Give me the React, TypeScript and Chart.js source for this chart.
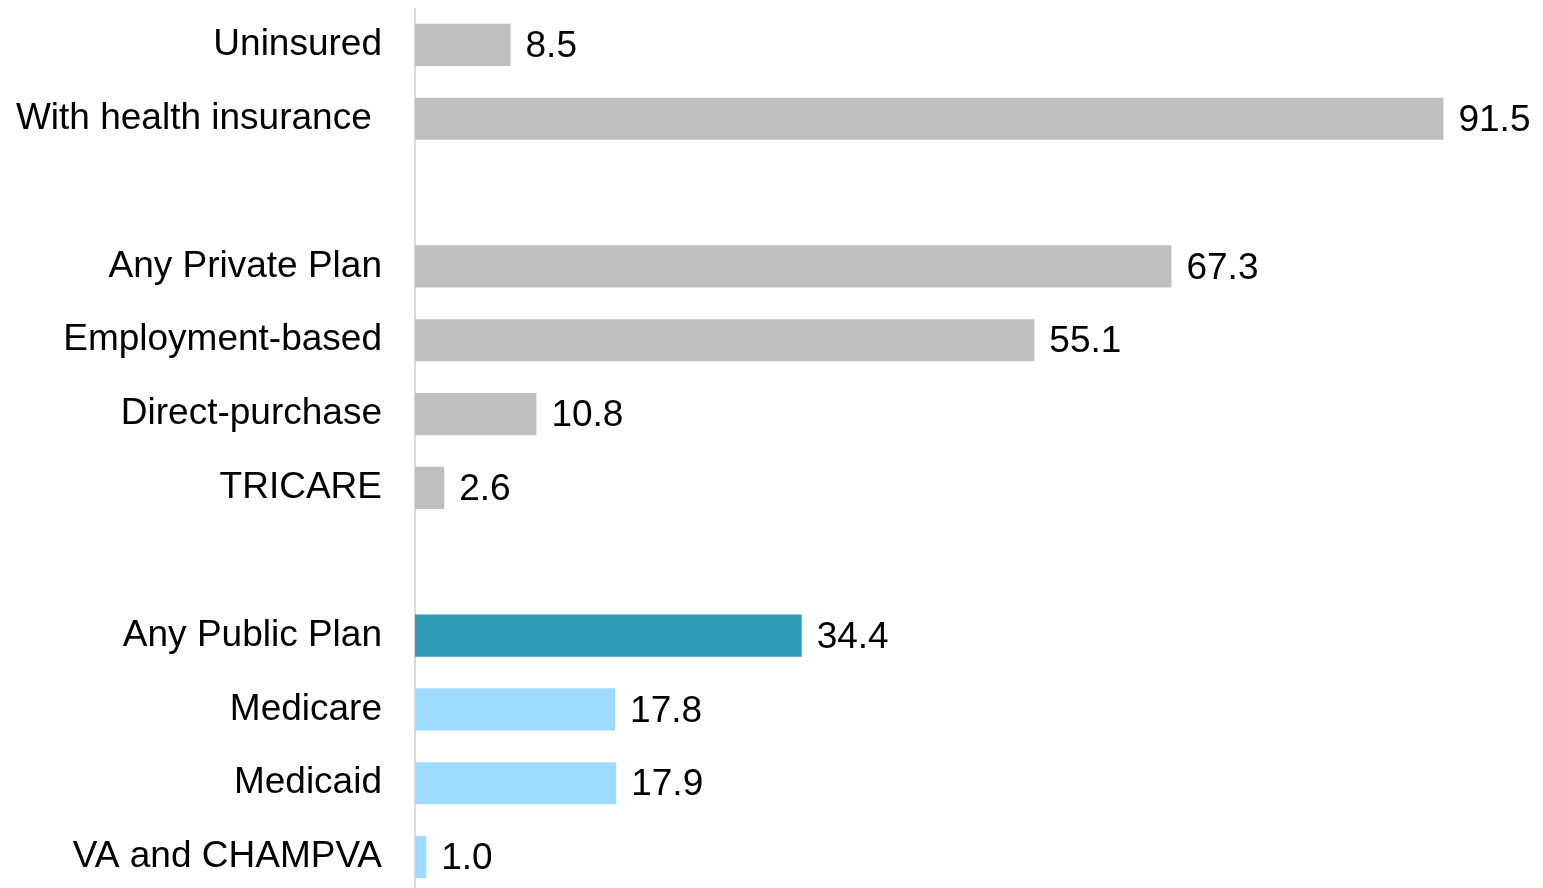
import React, { useEffect, useRef } from "react";
import { Chart, registerables } from "chart.js";

Chart.register(...registerables);

const categories: string[] = [
  "Uninsured",
  "With health insurance ",
  "",
  "Any Private Plan",
  "Employment-based",
  "Direct-purchase",
  "TRICARE",
  "",
  "Any Public Plan",
  "Medicare",
  "Medicaid",
  "VA and CHAMPVA",
];

const values: (number | null)[] = [8.5, 91.5, null, 67.3, 55.1, 10.8, 2.6, null, 34.4, 17.8, 17.9, 1.0];

const barColors: string[] = [
  "#BFBFBF",
  "#BFBFBF",
  "#BFBFBF",
  "#BFBFBF",
  "#BFBFBF",
  "#BFBFBF",
  "#BFBFBF",
  "#BFBFBF",
  "#2E9DB8",
  "#9FDBFE",
  "#9FDBFE",
  "#9FDBFE",
];

const FONT_FAMILY = "'Liberation Sans', Arial, sans-serif";

const valueLabelPlugin = {
  id: "valueLabels",
  afterDatasetsDraw(chart: any) {
    const ctx = chart.ctx;
    const meta = chart.getDatasetMeta(0);
    ctx.save();
    ctx.font = `37px ${FONT_FAMILY}`;
    ctx.fillStyle = "#000000";
    ctx.textAlign = "left";
    ctx.textBaseline = "middle";
    meta.data.forEach((bar: any, i: number) => {
      const v = values[i];
      if (v === null || v === undefined) return;
      ctx.fillText(v.toFixed(1), bar.x + 15, bar.y + 2);
    });
    ctx.restore();
  },
};

export default function App() {
  const canvasRef = useRef<HTMLCanvasElement | null>(null);

  useEffect(() => {
    document.body.style.overflow = "hidden";
    const canvas = canvasRef.current;
    if (!canvas) return;
    const chart = new Chart(canvas, {
      type: "bar",
      data: {
        labels: categories,
        datasets: [
          {
            data: values,
            backgroundColor: barColors,
            borderWidth: 0,
            barPercentage: 0.57,
            categoryPercentage: 1,
          },
        ],
      },
      options: {
        indexAxis: "y",
        animation: false,
        responsive: false,
        maintainAspectRatio: false,
        layout: { padding: { top: 0, right: 0, bottom: 0, left: 0 } },
        plugins: {
          legend: { display: false },
          tooltip: { enabled: false },
          title: { display: false },
        },
        scales: {
          x: {
            min: 0,
            max: 100,
            display: false,
            grid: { display: false },
          },
          y: {
            grid: { display: false, drawTicks: false },
            border: { display: true, color: "#D9D9D9", width: 2 },
            ticks: {
              color: "#000000",
              font: { family: FONT_FAMILY, size: 37 },
              padding: 33,
              autoSkip: false,
            },
            afterFit: (scale: any) => {
              scale.width = 407;
              scale.paddingTop = 0;
              scale.paddingBottom = 0;
            },
          },
        },
      },
      plugins: [valueLabelPlugin],
    } as any);
    return () => {
      chart.destroy();
    };
  }, []);

  return (
    <div style={{ width: 1531, height: 886 }}>
      <canvas ref={canvasRef} width={1531} height={886} style={{ display: "block", width: 1531, height: 886 }} />
    </div>
  );
}
